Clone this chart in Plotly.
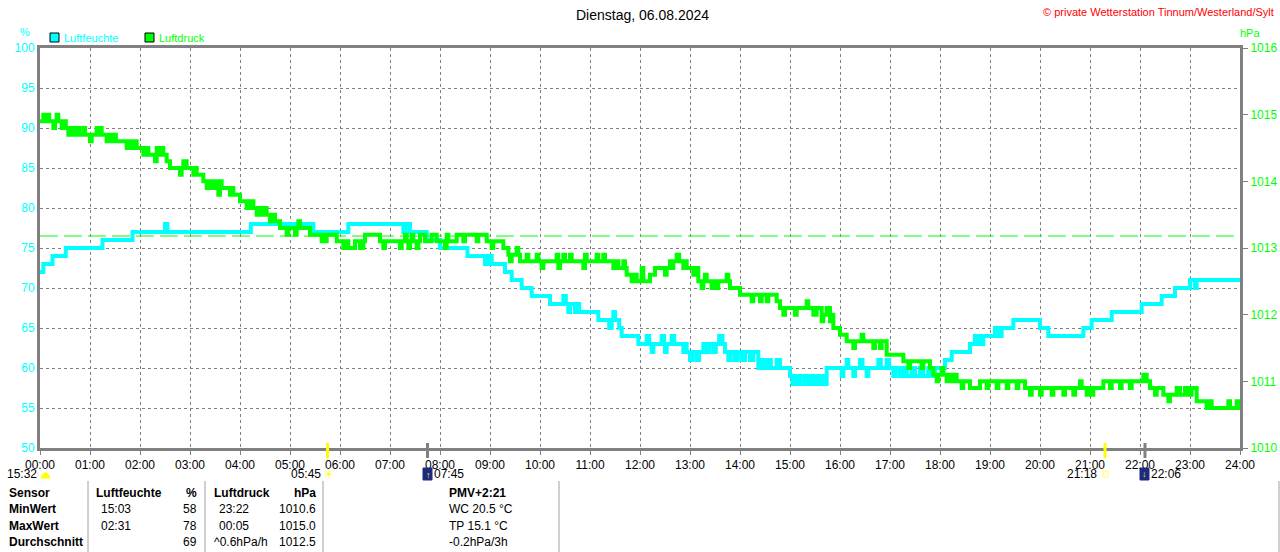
import plotly.graph_objects as go

# Luftfeuchte (%), Stufen: Minute des Tages -> Wert
hum_min = [0, 4, 15, 31, 75, 111, 150, 153, 253, 328, 370, 436, 439, 444, 464, 480,
           513, 534, 536, 538, 540, 542, 558, 566, 578, 590, 612, 628, 631, 634, 636, 642,
           645, 647, 670, 683, 686, 688, 690, 695, 698, 718, 728, 731, 734, 736, 746, 749,
           750, 752, 758, 761, 772, 774, 776, 780, 783, 788, 791, 796, 800, 803, 808, 811,
           815, 819, 822, 826, 829, 834, 837, 842, 846, 852, 856, 862, 866, 870, 874, 877,
           884, 888, 900, 903, 906, 910, 913, 918, 922, 926, 930, 934, 937, 941, 944, 962,
           964, 968, 970, 976, 978, 984, 987, 992, 994, 1006, 1009, 1016, 1019, 1024, 1027, 1032,
           1036, 1040, 1046, 1050, 1056, 1060, 1066, 1070, 1074, 1086, 1094, 1116, 1122, 1124, 1126, 1130,
           1132, 1146, 1148, 1150, 1152, 1154, 1168, 1200, 1210, 1252, 1262, 1286, 1322, 1346, 1362, 1380,
           1386, 1388, 1440]
hum_val = [72, 73, 74, 75, 76, 77, 78, 77, 78, 77, 78, 77, 78, 77, 76, 75,
           74, 73, 74, 73, 74, 73, 72, 71, 70, 69, 68, 69, 68, 67, 68, 67,
           68, 67, 66, 65, 66, 67, 66, 65, 64, 63, 64, 63, 62, 63, 64, 63,
           62, 63, 64, 63, 62, 63, 62, 61, 62, 61, 62, 63, 62, 63, 62, 63,
           64, 63, 62, 61, 62, 61, 62, 61, 62, 61, 62, 60, 61, 60, 61, 60,
           61, 60, 59, 58, 59, 58, 59, 58, 59, 58, 59, 58, 59, 58, 60, 59,
           60, 61, 60, 59, 60, 61, 60, 59, 60, 61, 60, 61, 60, 59, 60, 59,
           60, 59, 60, 59, 60, 59, 60, 59, 60, 61, 62, 63, 64, 63, 64, 63,
           64, 65, 64, 65, 64, 65, 66, 65, 64, 65, 66, 67, 68, 69, 70, 71,
           70, 71, 71]

# Luftdruck (hPa)
pres_min = [0, 4, 6, 9, 11, 16, 18, 20, 22, 26, 28, 31, 34, 36, 40, 44,
            47, 52, 54, 60, 62, 68, 70, 72, 74, 80, 83, 86, 89, 91, 104, 107,
            111, 114, 116, 124, 126, 130, 138, 140, 142, 146, 148, 152, 156, 168, 170, 172,
            176, 184, 186, 188, 196, 200, 204, 207, 210, 212, 214, 216, 218, 228, 230, 232,
            240, 248, 252, 256, 260, 264, 266, 270, 272, 276, 279, 282, 288, 296, 298, 306,
            308, 310, 312, 324, 338, 340, 342, 344, 356, 364, 368, 370, 372, 378, 384, 388,
            390, 408, 412, 414, 432, 434, 438, 440, 442, 444, 446, 448, 452, 454, 456, 462,
            470, 476, 486, 488, 490, 500, 508, 510, 524, 526, 536, 542, 544, 556, 562, 564,
            566, 572, 574, 576, 584, 586, 596, 598, 602, 604, 620, 622, 624, 628, 630, 636,
            638, 652, 654, 656, 668, 670, 676, 678, 688, 692, 694, 700, 702, 704, 710, 712,
            716, 722, 724, 732, 738, 750, 752, 756, 758, 760, 764, 767, 772, 774, 776, 784,
            788, 790, 794, 796, 798, 800, 806, 808, 812, 814, 824, 826, 828, 840, 854, 856,
            864, 866, 872, 874, 884, 888, 892, 894, 906, 908, 920, 922, 928, 932, 938, 940,
            944, 948, 950, 952, 960, 968, 976, 978, 986, 988, 1000, 1002, 1008, 1010, 1016, 1036,
            1042, 1044, 1058, 1060, 1068, 1072, 1076, 1078, 1082, 1084, 1088, 1090, 1094, 1096, 1100, 1106,
            1108, 1116, 1128, 1136, 1138, 1148, 1150, 1160, 1162, 1172, 1174, 1182, 1188, 1190, 1200, 1202,
            1214, 1216, 1228, 1230, 1240, 1242, 1248, 1250, 1256, 1258, 1262, 1264, 1276, 1284, 1286, 1296,
            1298, 1308, 1310, 1324, 1328, 1332, 1338, 1340, 1348, 1354, 1356, 1364, 1368, 1374, 1378, 1382,
            1388, 1400, 1404, 1406, 1426, 1428, 1436, 1438, 1440]
pres_val = [1014.9, 1015.0, 1014.9, 1015.0, 1014.9, 1014.8, 1014.9, 1015.0, 1014.9, 1014.8, 1014.9, 1014.8, 1014.7, 1014.8, 1014.7, 1014.8,
            1014.7, 1014.8, 1014.7, 1014.6, 1014.7, 1014.8, 1014.7, 1014.8, 1014.7, 1014.6, 1014.7, 1014.6, 1014.7, 1014.6, 1014.5, 1014.6,
            1014.5, 1014.6, 1014.5, 1014.4, 1014.5, 1014.4, 1014.3, 1014.5, 1014.4, 1014.5, 1014.4, 1014.3, 1014.2, 1014.1, 1014.2, 1014.3,
            1014.2, 1014.1, 1014.2, 1014.1, 1014.0, 1013.9, 1014.0, 1013.9, 1014.0, 1013.9, 1013.8, 1014.0, 1013.9, 1013.8, 1013.9, 1013.8,
            1013.7, 1013.6, 1013.7, 1013.6, 1013.5, 1013.6, 1013.5, 1013.6, 1013.5, 1013.4, 1013.5, 1013.4, 1013.3, 1013.2, 1013.3, 1013.2,
            1013.3, 1013.4, 1013.3, 1013.2, 1013.1, 1013.2, 1013.1, 1013.2, 1013.1, 1013.0, 1013.1, 1013.0, 1013.0, 1013.1, 1013.0, 1013.1,
            1013.2, 1013.1, 1013.0, 1013.1, 1013.0, 1013.1, 1013.2, 1013.1, 1013.0, 1013.1, 1013.2, 1013.1, 1013.0, 1013.1, 1013.2, 1013.1,
            1013.2, 1013.1, 1013.0, 1013.2, 1013.1, 1013.2, 1013.1, 1013.2, 1013.1, 1013.2, 1013.1, 1013.0, 1013.1, 1013.0, 1012.9, 1012.8,
            1012.9, 1013.0, 1012.9, 1012.8, 1012.9, 1012.8, 1012.9, 1012.8, 1012.7, 1012.8, 1012.9, 1012.7, 1012.8, 1012.9, 1012.8, 1012.9,
            1012.8, 1012.7, 1012.9, 1012.8, 1012.9, 1012.8, 1012.9, 1012.8, 1012.7, 1012.8, 1012.7, 1012.8, 1012.7, 1012.6, 1012.5, 1012.6,
            1012.5, 1012.7, 1012.5, 1012.6, 1012.7, 1012.6, 1012.7, 1012.8, 1012.7, 1012.8, 1012.9, 1012.8, 1012.7, 1012.8, 1012.7, 1012.6,
            1012.7, 1012.5, 1012.4, 1012.5, 1012.6, 1012.5, 1012.4, 1012.5, 1012.4, 1012.5, 1012.6, 1012.5, 1012.4, 1012.3, 1012.2, 1012.3,
            1012.2, 1012.3, 1012.2, 1012.3, 1012.2, 1012.1, 1012.0, 1012.1, 1012.0, 1012.1, 1012.2, 1012.1, 1012.0, 1012.1, 1011.9, 1012.0,
            1012.1, 1011.9, 1012.0, 1011.8, 1011.7, 1011.6, 1011.5, 1011.6, 1011.7, 1011.6, 1011.5, 1011.6, 1011.5, 1011.6, 1011.4, 1011.3,
            1011.2, 1011.3, 1011.2, 1011.3, 1011.2, 1011.1, 1011.0, 1011.1, 1011.2, 1011.1, 1011.0, 1011.1, 1011.0, 1011.1, 1011.0, 1010.9,
            1011.0, 1010.9, 1011.0, 1010.9, 1011.0, 1010.9, 1011.0, 1010.9, 1011.0, 1010.9, 1011.0, 1010.9, 1010.8, 1010.9, 1010.8, 1010.9,
            1010.8, 1010.9, 1010.8, 1010.9, 1010.8, 1010.9, 1011.0, 1010.9, 1010.8, 1010.9, 1010.8, 1010.9, 1011.0, 1010.9, 1011.0, 1010.9,
            1011.0, 1010.9, 1011.0, 1011.1, 1011.0, 1010.9, 1010.8, 1010.9, 1010.8, 1010.7, 1010.8, 1010.9, 1010.8, 1010.9, 1010.8, 1010.9,
            1010.7, 1010.6, 1010.7, 1010.6, 1010.7, 1010.6, 1010.7, 1010.6, 1010.6]

pres_ref = 1013.18  # gestrichelte Linie

hour_ticks = list(range(0, 1441, 60))
hour_labels = ['%02d:00' % h for h in range(25)]

# Sonne / Mond  (Minute, Uhrzeit)
sun_rise = (345, '05:45')
sun_set = (1278, '21:18')
moon_rise = (465, '07:45')
moon_set = (1326, '22:06')
moon_prev = '15:32'

# Tabelle unten
table_head = ['Sensor', 'Luftfeuchte', '%', 'Luftdruck', 'hPa', 'PMV+2:21']
row_names = ['MinWert', 'MaxWert', 'Durchschnitt']
hum_time = ['15:03', '02:31', '']
hum_stat = ['58', '78', '69']
pres_time = ['23:22', '00:05', '^0.6hPa/h']
pres_stat = ['1010.6', '1015.0', '1012.5']
extra = ['WC 20.5 °C', 'TP 15.1 °C', '-0.2hPa/3h']

CYAN = '#00FFFF'
GREEN = '#00FF00'
GRAY = '#808080'
FONT = 'Liberation Sans'


# Pixel (Bild) -> paper, Plotflaeche 40..1240 x 48..448
def px(x):
    return (x - 40) / 1200.0


def py(y):
    return (448 - y) / 400.0


annos = []
shapes = []


def txt(x, y, s, color='black', size=12, xa='left', bold=False):
    if bold:
        s = '<b>' + s + '</b>'
    annos.append(dict(x=px(x), y=py(y), xref='paper', yref='paper', text=s,
                      showarrow=False, xanchor=xa, yanchor='middle', borderpad=0,
                      font=dict(family=FONT, size=size, color=color)))


def rect(x0, y0, x1, y1, fill, line='black', lw=1):
    shapes.append(dict(type='rect', xref='paper', yref='paper',
                       x0=px(x0), x1=px(x1), y0=py(y0), y1=py(y1),
                       fillcolor=fill, line=dict(color=line, width=lw), layer='above'))


def vline(x, y0, y1, color, w):
    shapes.append(dict(type='line', xref='paper', yref='paper',
                       x0=px(x), x1=px(x), y0=py(y0), y1=py(y1),
                       line=dict(color=color, width=w), layer='above'))


fig = go.Figure()
fig.add_trace(go.Scatter(x=[0, 1440], y=[pres_ref, pres_ref], yaxis='y2', mode='lines',
                         line=dict(color=GREEN, width=1, dash='18px,6px'), hoverinfo='skip'))
fig.add_trace(go.Scatter(x=pres_min, y=pres_val, yaxis='y2', mode='lines', name='Luftdruck',
                         line=dict(color=GREEN, width=4, shape='hv')))
fig.add_trace(go.Scatter(x=hum_min, y=hum_val, mode='lines', name='Luftfeuchte',
                         line=dict(color=CYAN, width=4, shape='hv')))

# Kopf
txt(642, 15, 'Dienstag, 06.08.2024', size=14, xa='center')
txt(1275, 12, '© private Wetterstation Tinnum/Westerland/Sylt', color='#FF0000', size=11, xa='right')
txt(25, 32, '%', color=CYAN, size=11, xa='center')
txt(1250, 33, 'hPa', color=GREEN, size=11, xa='center')
rect(50, 33, 59, 42, CYAN)
txt(63, 38, 'Luftfeuchte', color=CYAN, size=11)
rect(145, 33, 154, 42, GREEN)
txt(158, 38, 'Luftdruck', color=GREEN, size=11)

# Sonne / Mond Markierungen
for m, c in [(sun_rise[0], '#FFFF00'), (sun_set[0], '#FFFF00'), (moon_rise[0], GRAY), (moon_set[0], GRAY)]:
    vline(40 + m / 1.2, 443, 458, c, 3)
txt(38, 474, moon_prev, xa='right')
shapes.append(dict(type='path', xref='paper', yref='paper', layer='above',
                   path='M %f %f Q %f %f %f %f Z' % (px(41), py(478), px(45.5), py(467), px(50), py(478)),
                   fillcolor='#FFFF00', line=dict(color='#FFFF00', width=1)))
x_sr = 40 + sun_rise[0] / 1.2
txt(x_sr - 6, 474, sun_rise[1], xa='right')
txt(x_sr + 1, 474, '☀', color='#FFFF00', size=11, xa='center')
x_mr = 40 + moon_rise[0] / 1.2
rect(x_mr - 4.5, 468, x_mr + 4.5, 480, '#1C2A80', line='#1C2A80')
txt(x_mr + 1, 475, '↑', color='#FFFF00', size=9, xa='center')
txt(x_mr + 5.5, 474, moon_rise[1])
x_ss = 40 + sun_set[0] / 1.2
txt(x_ss - 7, 474, sun_set[1], xa='right')
rect(x_ss - 2, 471, x_ss + 3, 477, 'white', line='#FFFF60')
x_ms = 40 + moon_set[0] / 1.2
rect(x_ms - 5, 468, x_ms + 4, 480, '#1C2A80', line='#1C2A80')
txt(x_ms - 1, 474, '↓', color='#FFFF00', size=9, xa='center')
txt(x_ms + 5, 474, moon_set[1])

# Tabelle
for x in [88, 205, 323, 559, 1279]:
    vline(x, 481, 552, '#A0A0A0', 1)
txt(8, 493, table_head[0], bold=True)
txt(95, 493, table_head[1], bold=True)
txt(198, 493, table_head[2], bold=True, xa='right')
txt(213, 493, table_head[3], bold=True)
txt(317, 493, table_head[4], bold=True, xa='right')
txt(477, 493, table_head[5], bold=True, xa='center')
for i in range(3):
    yy = 509 + i * 16.5
    txt(8, yy, row_names[i], bold=True)
    txt(100, yy, hum_time[i])
    txt(198, yy, hum_stat[i], xa='right')
    txt(213 if i == 2 else 218, yy, pres_time[i])
    txt(317, yy, pres_stat[i], xa='right')
    txt(448, yy, extra[i])

fig.update_layout(
    width=1280, height=552,
    margin=dict(l=40, r=40, t=48, b=104, autoexpand=False),
    paper_bgcolor='white', plot_bgcolor='white',
    showlegend=False,
    font=dict(family=FONT, size=12, color='black'),
    xaxis=dict(range=[0, 1440], tickvals=hour_ticks, ticktext=hour_labels,
               showgrid=True, gridcolor=GRAY, griddash='3px,3px', gridwidth=1,
               showline=True, linecolor=GRAY, linewidth=3, mirror=True,
               ticks='outside', ticklen=4, tickcolor=GRAY, zeroline=False, automargin=False,
               tickfont=dict(family=FONT, size=12, color='black')),
    yaxis=dict(range=[50, 100], dtick=5, showgrid=True, gridcolor=GRAY,
               griddash='3px,3px', gridwidth=1, showline=True, linecolor=GRAY,
               linewidth=3, ticks='', zeroline=False, automargin=False,
               tickfont=dict(family=FONT, size=12, color=CYAN)),
    yaxis2=dict(range=[1010, 1016], dtick=1, overlaying='y', side='right',
                showgrid=False, showline=True, linecolor=GRAY, linewidth=3,
                ticks='outside', ticklen=5, tickcolor=GRAY, zeroline=False, automargin=False,
                tickfont=dict(family=FONT, size=12, color=GREEN)),
    annotations=annos,
    shapes=shapes,
)

# Seitenrand weg, damit die Grafik genau das Fenster fuellt
fig.write_html("out.html", config={'displayModeBar': False},
               post_script="document.body.style.margin = '0';")
